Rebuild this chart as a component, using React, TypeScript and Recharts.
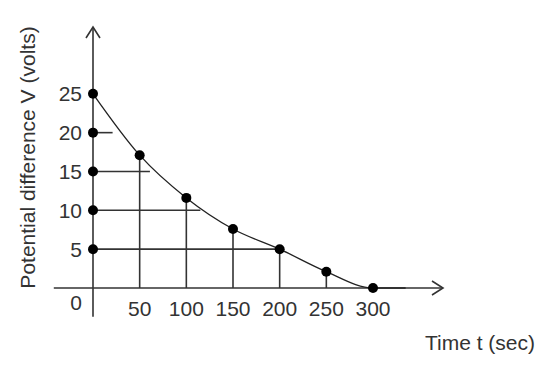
import React from 'react';
import { ComposedChart, Line, Scatter, XAxis, YAxis, ReferenceLine, Label } from 'recharts';

// discharge curve of the capacitor
const curveT = [0, 50, 100, 150, 200, 250, 300, 335];
const curveV = [25, 17.1, 11.6, 7.6, 5, 2.1, 0, 0];

// readings marked on the curve
const readT = [50, 100, 150, 200, 250, 300];
const readV = [17.1, 11.6, 7.6, 5, 2.1, 0];

// dots on the V axis
const axisV = [25, 20, 15, 10, 5];

// horizontal guides from the V axis to the curve
const guideV = [20, 15, 10, 5];
const guideT = [21, 61, 115, 200];

const xTicks = [50, 100, 150, 200, 250, 300];
const yTicks = [0, 5, 10, 15, 20, 25];

const curveData = curveT.map((t, i) => ({ t, v: curveV[i] }));
const readData = readT.map((t, i) => ({ t, v: readV[i] }));
const axisData = axisV.map((v) => ({ t: 0, v }));

const ink = '#333';
const font = 'Liberation Sans, Arial, sans-serif';

function ArrowLine(props: any) {
    const { x1, y1, x2, y2 } = props;
    const len = Math.hypot(x2 - x1, y2 - y1) || 1;
    const ux = (x2 - x1) / len;
    const uy = (y2 - y1) / len;
    const back = 11;
    const half = 7;
    const bx = x2 - ux * back;
    const by = y2 - uy * back;
    const d = `M${bx - uy * half},${by + ux * half} L${x2},${y2} L${bx + uy * half},${by - ux * half}`;
    return (
        <g>
            <line x1={x1} y1={y1} x2={x2} y2={y2} stroke={ink} strokeWidth={1.6} />
            <path d={d} fill="none" stroke={ink} strokeWidth={1.6} />
        </g>
    );
}

function Dot(props: any) {
    return <circle cx={props.cx} cy={props.cy} r={5} fill="#000" />;
}

function YTick(props: any) {
    const { x, y, payload } = props;
    const drop = payload.value === 0 ? 15 : 0;
    return (
        <text x={x} y={y + drop} dy="0.355em" textAnchor="end" fill={ink} fontSize={21} fontFamily={font}>
            {payload.value}
        </text>
    );
}

export default function App() {
    return (
        <div style={{ position: 'absolute', left: 0, top: 0 }}>
            <ComposedChart width={552} height={366} margin={{ top: 27, right: 109, bottom: 0, left: 0 }}>
                <XAxis
                    type="number"
                    dataKey="t"
                    domain={[0, 375]}
                    ticks={xTicks}
                    axisLine={false}
                    tickLine={false}
                    tickSize={0}
                    tickMargin={13}
                    height={78}
                    tick={{ fill: ink, fontSize: 21, fontFamily: font }}
                >
                    <Label value="Time t (sec)" position="center" dx={212} dy={16} fill={ink} fontSize={21} fontFamily={font} />
                </XAxis>
                <YAxis
                    type="number"
                    dataKey="v"
                    domain={[0, 33.6]}
                    ticks={yTicks}
                    axisLine={false}
                    tickLine={false}
                    tickSize={0}
                    tickMargin={11}
                    width={93}
                    tick={YTick}
                >
                    <Label value="Potential difference V (volts)" angle={-90} position="center" dx={-19} fill={ink} fontSize={21} fontFamily={font} />
                </YAxis>

                {readData.slice(0, 5).map((p) => (
                    <ReferenceLine key={'vt' + p.t} segment={[{ x: p.t, y: 0 }, { x: p.t, y: p.v }]} stroke={ink} strokeWidth={1.6} ifOverflow="visible" />
                ))}
                {guideV.map((v, i) => (
                    <ReferenceLine key={'hz' + v} segment={[{ x: 0, y: v }, { x: guideT[i], y: v }]} stroke={ink} strokeWidth={1.6} ifOverflow="visible" />
                ))}

                <ReferenceLine segment={[{ x: -42, y: 0 }, { x: 375, y: 0 }]} ifOverflow="visible" shape={ArrowLine} />
                <ReferenceLine segment={[{ x: 0, y: -3.7 }, { x: 0, y: 33.6 }]} ifOverflow="visible" shape={ArrowLine} />

                <Line data={curveData} dataKey="v" type="monotone" stroke="#222" strokeWidth={1.3} dot={false} isAnimationActive={false} />
                <Scatter data={readData} dataKey="v" shape={Dot} isAnimationActive={false} />
                <Scatter data={axisData} dataKey="v" shape={Dot} isAnimationActive={false} />
            </ComposedChart>
        </div>
    );
}
